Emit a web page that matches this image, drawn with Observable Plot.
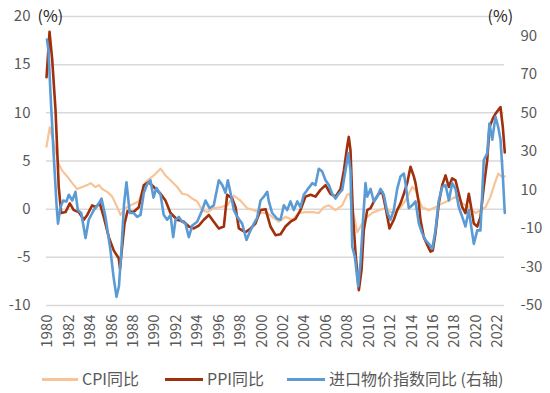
<!DOCTYPE html>
<html><head><meta charset="utf-8">
<script src="https://cdn.jsdelivr.net/npm/d3@7"></script>
<script src="https://cdn.jsdelivr.net/npm/@observablehq/plot@0.6"></script>
<style>
body{margin:0;background:#fff;font-family:"Noto Sans CJK SC","Noto Sans",sans-serif;}
#chart svg{display:block;}
#legend{position:relative;width:550px;height:28px;color:#595959;font-size:16px;}
#legend .sw{position:absolute;top:13px;height:0;border-top-width:3px;border-top-style:solid;}
#legend .lb{position:absolute;top:2px;line-height:22px;white-space:nowrap;}
</style></head><body>
<div id="chart"></div>
<div id="legend"></div>
<script>
// CPI YoY (%), left axis
const cpiYears=[1979.91,1980.21,1980.44,1980.75,1981.05,1981.37,1981.84,1982.31,1982.77,1983.24,1983.71,1984.01,1984.48,1984.79,1985.11,1985.57,1986.04,1986.51,1986.81,1987.28,1987.75,1988.52,1989.15,1989.92,1990.55,1991.01,1991.48,1992.11,1992.57,1993.04,1993.51,1993.97,1994.44,1994.91,1995.52,1996.15,1996.77,1997.39,1998.0,1998.64,1999.26,1999.88,2000.51,2000.97,2001.59,2002.21,2002.84,2003.46,2004.08,2004.71,2005.32,2005.79,2006.26,2006.88,2007.51,2007.97,2008.19,2008.50,2008.91,2009.37,2009.84,2010.31,2010.92,2011.55,2012.01,2012.48,2012.95,2013.41,2013.72,2014.04,2014.35,2014.66,2014.97,2015.59,2016.21,2016.84,2017.46,2018.08,2018.71,2019.32,2019.95,2020.41,2020.88,2021.35,2021.75,2022.07,2022.37,2022.68];
const cpiValues=[6.5,8.5,7.5,6.1,4.7,4.0,3.4,2.7,2.1,2.3,2.5,2.7,2.3,2.5,2.1,1.8,1.3,0.2,-0.6,0.1,0.4,0.8,2.8,3.5,4.2,3.5,3.0,2.3,1.6,1.5,1.1,0.8,-0.1,-0.3,0.1,0.2,0.4,1.4,0.9,0.1,-0.1,-0.4,-0.4,-0.8,-1.3,-0.8,-1.1,-0.4,-0.3,-0.3,-0.4,0.2,0.4,-0.1,0.4,1.5,1.6,-0.1,-2.4,-1.5,-0.8,-0.4,-0.1,0.1,-0.3,-0.3,0.2,0.9,1.6,2.3,2.0,1.0,0.2,-0.1,0.2,0.6,0.9,1.3,0.6,0.2,-0.4,-0.1,0.2,1.3,2.7,3.7,3.4,3.4];

// PPI YoY (%), left axis
const ppiYears=[1979.91,1980.19,1980.44,1980.75,1981.05,1981.28,1981.68,1982.08,1982.45,1982.92,1983.39,1983.71,1984.17,1984.48,1984.88,1985.25,1985.72,1986.19,1986.65,1986.77,1986.91,1987.19,1987.47,1988.03,1988.52,1988.99,1989.45,1989.92,1990.55,1991.01,1991.48,1992.11,1992.72,1993.19,1993.65,1994.12,1994.59,1995.06,1995.52,1995.99,1996.46,1996.77,1997.24,1997.55,1997.86,1998.48,1998.95,1999.41,1999.88,2000.35,2000.81,2001.28,2001.75,2002.21,2002.68,2003.15,2003.61,2004.08,2004.55,2005.01,2005.48,2005.95,2006.41,2006.88,2007.35,2007.66,2007.97,2008.12,2008.28,2008.50,2008.75,2009.06,2009.31,2009.52,2009.84,2010.15,2010.46,2010.92,2011.24,2011.55,2011.92,2012.32,2012.64,2012.95,2013.26,2013.57,2013.88,2014.19,2014.35,2014.66,2014.81,2015.12,2015.44,2015.75,2015.96,2016.21,2016.52,2016.84,2017.15,2017.46,2017.77,2018.08,2018.39,2018.71,2019.01,2019.32,2019.48,2019.79,2020.11,2020.41,2020.72,2021.04,2021.25,2021.56,2021.81,2022.07,2022.28,2022.50,2022.68];
const ppiValues=[13.7,18.4,15.5,10.3,2.3,-0.4,-0.3,0.6,-0.1,-0.3,-1.1,-0.6,0.4,0.2,0.6,-0.8,-2.9,-4.3,-5.1,-6.2,-4.5,-1.5,-0.2,-0.3,0.2,2.5,2.8,2.3,1.6,0.9,-0.4,-1.1,-1.3,-1.8,-2.0,-1.7,-1.1,-0.6,-1.3,-2.0,-1.8,1.5,1.1,0.2,-2.0,-2.4,-2.0,-1.5,-0.1,0.0,-1.8,-2.7,-2.6,-1.8,-1.3,-1.0,-0.1,1.3,1.5,1.3,2.0,2.5,1.6,1.3,2.1,4.0,6.5,7.5,6.1,-0.4,-4.6,-8.4,-6.3,-2.2,-0.1,0.1,0.8,1.6,1.8,0.2,-2.0,-1.1,-0.1,0.6,1.6,2.7,4.4,3.4,2.7,0.6,-1.1,-2.9,-3.7,-4.4,-4.3,-2.5,0.6,2.5,3.5,2.3,3.2,3.0,1.6,0.2,-0.4,1.6,0.6,-1.5,-1.8,-0.8,2.3,5.1,8.5,9.4,9.9,10.3,10.6,8.5,5.9];

// Import price index YoY (%), right axis
const impYears=[1979.95,1980.09,1980.28,1980.56,1980.84,1980.98,1981.21,1981.47,1981.77,1981.99,1982.31,1982.61,1982.83,1983.15,1983.55,1983.85,1984.32,1984.79,1985.04,1985.41,1985.88,1986.16,1986.44,1986.67,1986.91,1987.14,1987.37,1987.68,1988.05,1988.37,1988.68,1988.99,1989.31,1989.61,1989.89,1990.17,1990.55,1990.85,1991.17,1991.48,1991.73,1991.95,1992.25,1992.57,1992.88,1993.19,1993.51,1993.97,1994.44,1994.75,1995.12,1995.52,1995.99,1996.31,1996.61,1996.83,1997.08,1997.39,1997.71,1998.17,1998.57,1998.95,1999.26,1999.57,1999.88,2000.19,2000.51,2000.66,2000.97,2001.44,2001.75,2002.06,2002.37,2002.68,2002.99,2003.31,2003.61,2003.92,2004.24,2004.71,2005.01,2005.32,2005.64,2005.95,2006.26,2006.57,2006.88,2007.19,2007.51,2007.81,2008.07,2008.28,2008.44,2008.68,2009.00,2009.21,2009.43,2009.68,2009.84,2010.15,2010.46,2010.77,2011.08,2011.39,2011.71,2012.01,2012.32,2012.64,2012.95,2013.26,2013.41,2013.72,2014.04,2014.35,2014.66,2014.97,2015.28,2015.59,2015.91,2016.21,2016.52,2016.84,2017.15,2017.46,2017.77,2018.08,2018.39,2018.71,2019.01,2019.32,2019.64,2019.79,2020.11,2020.41,2020.72,2021.04,2021.25,2021.51,2021.81,2022.07,2022.28,2022.50,2022.68];
const impValues=[88,82.5,60,30,2.5,-7.5,1,4.5,4,7.5,4.5,9,-0.5,-2,-15,-5.5,-0.5,3,5.5,-4,-21.5,-35,-45.5,-40,-20,2.5,14,-2,-2,-4,-3,8.5,13,15,6,11,7.5,-3,-5.5,-3,-14.5,-5.5,-4,-6.5,-7.5,-14.5,-8.5,-6.5,-0.5,4.5,0.5,2,15,12.5,8.5,15,8.5,-0.5,-4,-7.5,-16,-11,-7.5,-4.5,4.5,6.5,9,4,-2,-5,-5.5,2,-0.5,4,-0.5,4,1,7.5,10,13.5,12.5,21,19.5,15,12.5,8,5.5,8,10,20,29,20,-19.5,-24.5,-40,-28,-7.5,13.5,6.5,10.5,4,6.5,10.5,7.5,-1.5,-5.5,-0.5,10.5,17,18.5,13.5,0.5,2,4,-7.5,-12.5,-16,-18,-20.5,-11,4.5,11.5,12.5,4.5,13.5,10.5,1,-4,-9,-0.5,-12.5,-18,-11,-11,25.5,29,44.5,36,48,42.5,36,17,-2];

const leftTicks=[-10,-5,0,5,10,15,20];
const rightTicks=[-50,-30,-10,10,30,50,70,90];
const yearTicks=d3.range(1980,2023,2);
const seriesNames=["CPI同比","PPI同比","进口物价指数同比 (右轴)"];
const colors=["#F8C497","#A0300C","#5B9BD5"];
const ratio=5; // right axis = left axis × 5

const cpi=cpiYears.map((y,i)=>({year:y,value:cpiValues[i]}));
const ppi=ppiYears.map((y,i)=>({year:y,value:ppiValues[i]}));
const imp=impYears.map((y,i)=>({year:y,value:impValues[i]}));

const font='"Noto Sans CJK SC","Noto Sans",sans-serif';
const chart=Plot.plot({
  width:550,height:365,
  marginLeft:46,marginRight:46,marginTop:16,marginBottom:60,
  style:{fontFamily:font,fontSize:"15px",color:"#595959",background:"#fff"},
  x:{domain:[1980,2022],range:[47,497]},
  y:{domain:[-10,20]},
  marks:[
    Plot.ruleY(leftTicks,{stroke:"#d9d9d9",strokeWidth:1.5}),
    Plot.axisY({ticks:leftTicks,tickSize:0,tickPadding:16,tickFormat:d=>String(d),label:null,fontSize:15}),
    Plot.axisY({anchor:"right",ticks:rightTicks.map(v=>v/ratio),tickFormat:d=>String(Math.round(d*ratio)),tickSize:0,tickPadding:16,label:null,fontSize:15}),
    Plot.axisX({ticks:yearTicks,tickFormat:d=>String(d),tickRotate:-90,tickSize:0,tickPadding:9,label:null,fontSize:15}),
    Plot.line(cpi,{x:"year",y:"value",stroke:colors[0],strokeWidth:2.2}),
    Plot.line(ppi,{x:"year",y:"value",stroke:colors[1],strokeWidth:2.6}),
    Plot.line(imp,{x:"year",y:d=>d.value/ratio,stroke:colors[2],strokeWidth:2.6}),
    Plot.text(["(%)"],{frameAnchor:"top-left",dx:-9,textAnchor:"start",lineAnchor:"middle",fill:"#262626",fontSize:16}),
    Plot.text(["(%)"],{frameAnchor:"top-right",dx:-17,textAnchor:"start",lineAnchor:"middle",fill:"#262626",fontSize:16})
  ]
});
document.getElementById("chart").appendChild(chart);

const legend=document.getElementById("legend");
const swX=[[42,78],[165,203],[287,325]];
seriesNames.forEach((n,i)=>{
  const s=document.createElement("div");
  s.className="sw";
  s.style.left=swX[i][0]+"px";
  s.style.width=(swX[i][1]-swX[i][0])+"px";
  s.style.borderTopColor=colors[i];
  legend.appendChild(s);
  const t=document.createElement("div");
  t.className="lb";
  t.style.left=(swX[i][1]+4)+"px";
  t.textContent=n;
  legend.appendChild(t);
});
</script>
</body></html>
